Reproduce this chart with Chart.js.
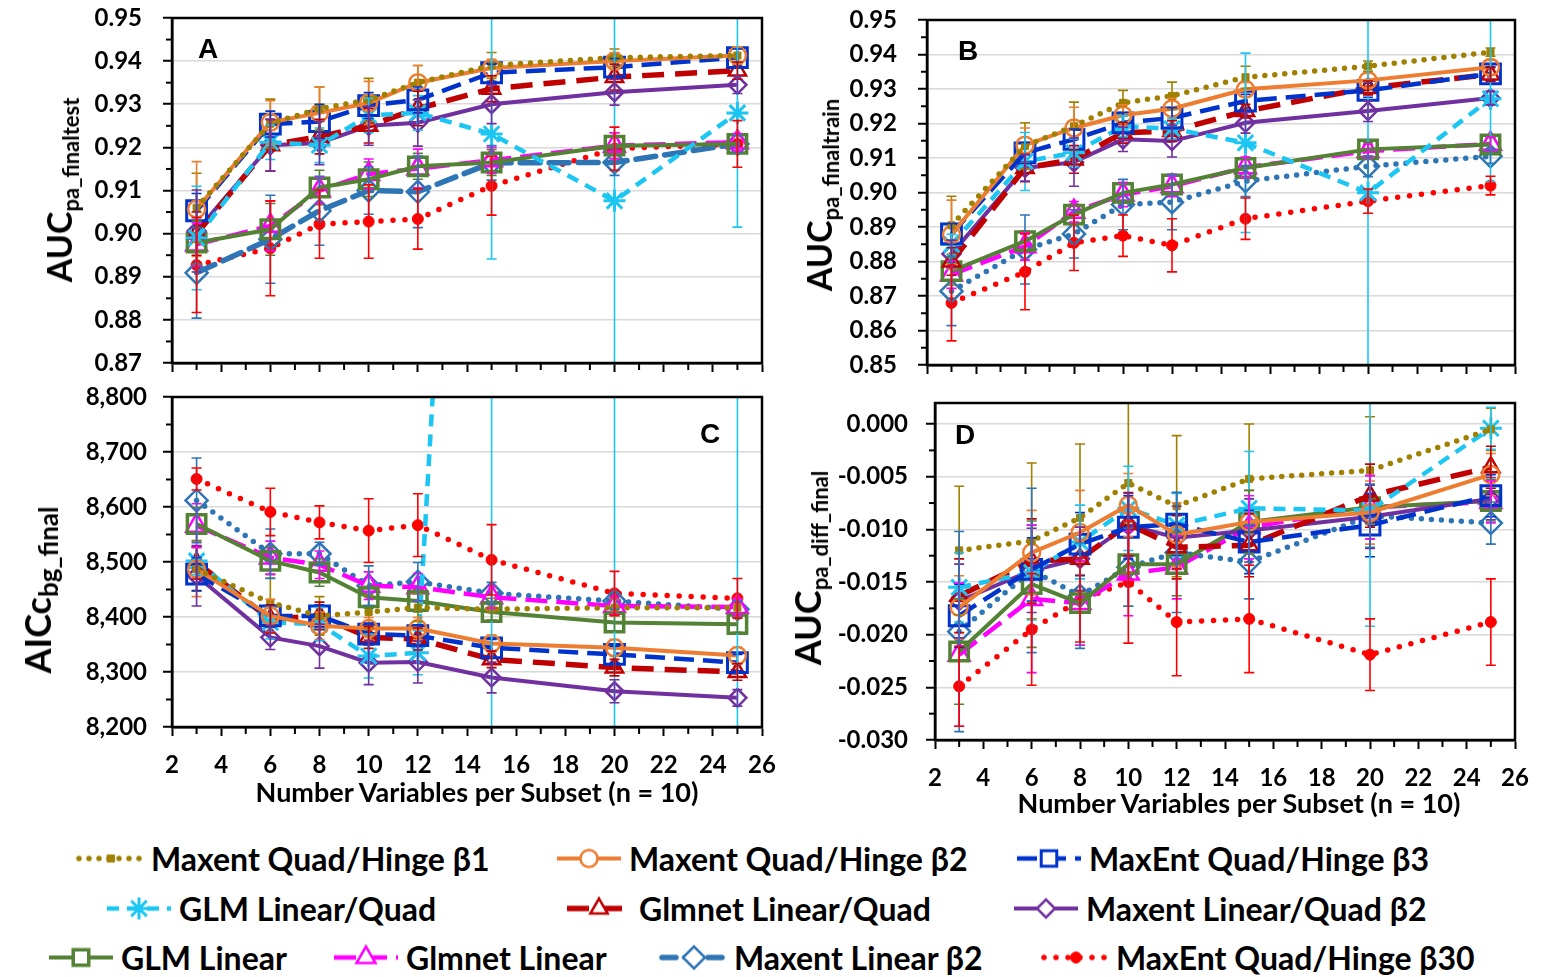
<!DOCTYPE html>
<html>
<head>
<meta charset="utf-8">
<script src="https://cdn.jsdelivr.net/npm/chart.js@4.4.1/dist/chart.umd.min.js"></script>
<style>
  html, body { margin: 0; padding: 0; background: #fff; }
  body { width: 1543px; height: 977px; position: relative; overflow: hidden;
         font-family: Lato, "Open Sans", sans-serif; font-weight: 700; color: #000; }
  .panel { position: absolute; }
  .ytitle { position: absolute; transform: translate(-50%, -50%) rotate(-90deg); white-space: nowrap; font-size: 34px; line-height: 1; }
  .ytitle sub { font-size: 22px; vertical-align: -7px; }
  .xtitle { position: absolute; transform: translateX(-50%); font-size: 27px; white-space: nowrap; }
  .leg { position: absolute; display: flex; align-items: center; transform: translateY(-50%); font-size: 32px; white-space: nowrap; }
  .leg canvas { margin-right: 4px; }
</style>
</head>
<body>
<div class="panel" style="left:0;top:0"><canvas id="chartA" width="780" height="385"></canvas></div>
<div class="panel" style="left:780px;top:0"><canvas id="chartB" width="763" height="385"></canvas></div>
<div class="panel" style="left:0;top:380px"><canvas id="chartC" width="780" height="425"></canvas></div>
<div class="panel" style="left:780px;top:385px"><canvas id="chartD" width="763" height="410"></canvas></div>

<div class="ytitle" style="left:62px;top:190px">AUC<sub>pa_finaltest</sub></div>
<div class="ytitle" style="left:822px;top:195px">AUC<sub>pa_finaltrain</sub></div>
<div class="ytitle" style="left:40px;top:590px;font-size:36px">AICc<sub style="font-size:26px">bg_final</sub></div>
<div class="ytitle" style="left:810px;top:568px;font-size:36px">AUC<sub>pa_diff_final</sub></div>
<div class="xtitle" style="left:477px;top:775px">Number Variables per Subset (n = 10)</div>
<div class="xtitle" style="left:1239px;top:786px">Number Variables per Subset (n = 10)</div>
<div id="legend"></div>

<script>
// subset sizes on the x axis
const xVars = [3, 6, 8, 10, 12, 15, 20, 25];
const xTicks = [2, 4, 6, 8, 10, 12, 14, 16, 18, 20, 22, 24, 26];

const seriesNames = [
  'Maxent Quad/Hinge β1', 'Maxent Quad/Hinge β2', 'MaxEnt Quad/Hinge β3',
  'GLM Linear/Quad', 'Glmnet Linear/Quad', 'Maxent Linear/Quad β2',
  'GLM Linear', 'Glmnet Linear', 'Maxent Linear β2', 'MaxEnt Quad/Hinge β30'
];
const seriesColors = ['#A08000', '#ED7D31', '#0033CC', '#1CC6F2', '#C00000',
                      '#7030A0', '#548235', '#FF00FF', '#2E75B6', '#FF0000'];

// A: AUC pa_finaltest
const testAuc = [
  [0.9060, 0.9255, 0.9290, 0.9310, 0.9350, 0.9390, 0.9408, 0.9413],
  [0.9057, 0.9258, 0.9280, 0.9303, 0.9350, 0.9384, 0.9400, 0.9413],
  [0.9053, 0.9254, 0.9260, 0.9297, 0.9310, 0.9373, 0.9386, 0.9408],
  [0.8990, 0.9212, 0.9205, 0.9274, 0.9280, 0.9231, 0.9076, 0.9280],
  [0.9000, 0.9205, 0.9225, 0.9250, 0.9290, 0.9336, 0.9363, 0.9378],
  [0.9006, 0.9205, 0.9210, 0.9250, 0.9257, 0.9300, 0.9328, 0.9345],
  [0.8979, 0.9010, 0.9107, 0.9126, 0.9156, 0.9165, 0.9204, 0.9208],
  [0.8975, 0.9018, 0.9100, 0.9138, 0.9151, 0.9170, 0.9204, 0.9212],
  [0.8909, 0.8987, 0.9053, 0.9100, 0.9097, 0.9164, 0.9165, 0.9208],
  [0.8927, 0.8966, 0.9022, 0.9028, 0.9034, 0.9111, 0.9197, 0.9208]
];
const testErr = [
  [0.0080, 0.0057, 0.0050, 0.0050, 0.0040, 0.0030, 0.0020, 0.0020],
  [0.0110, 0.0050, 0.0060, 0.0050, 0.0040, 0.0020, 0.0020, 0.0020],
  [0.0040, 0.0030, 0.0040, 0.0030, 0.0030, 0.0020, 0.0020, 0.0020],
  [0.0120, 0.0040, 0.0040, 0.0040, 0.0040, 0.0290, 0.0500, 0.0265],
  [0.0050, 0.0060, 0.0040, 0.0040, 0.0040, 0.0030, 0.0030, 0.0020],
  [0.0095, 0.0060, 0.0050, 0.0045, 0.0054, 0.0045, 0.0030, 0.0020],
  [0.0050, 0.0060, 0.0040, 0.0040, 0.0030, 0.0030, 0.0030, 0.0020],
  [0.0050, 0.0058, 0.0030, 0.0035, 0.0045, 0.0030, 0.0030, 0.0020],
  [0.0105, 0.0102, 0.0080, 0.0055, 0.0083, 0.0040, 0.0030, 0.0020],
  [0.0110, 0.0110, 0.0079, 0.0085, 0.0070, 0.0068, 0.0050, 0.0054]
];

// B: AUC pa_finaltrain
const trainAuc = [
  [0.8905, 0.9135, 0.9192, 0.9260, 0.9280, 0.9334, 0.9366, 0.9407],
  [0.8878, 0.9137, 0.9187, 0.9224, 0.9243, 0.9299, 0.9325, 0.9363],
  [0.8880, 0.9115, 0.9154, 0.9202, 0.9216, 0.9265, 0.9296, 0.9344],
  [0.8849, 0.9090, 0.9115, 0.9192, 0.9185, 0.9144, 0.8999, 0.9272],
  [0.8800, 0.9071, 0.9096, 0.9173, 0.9178, 0.9236, 0.9303, 0.9342],
  [0.8822, 0.9071, 0.9088, 0.9154, 0.9149, 0.9202, 0.9236, 0.9274],
  [0.8772, 0.8859, 0.8936, 0.8999, 0.9023, 0.9071, 0.9125, 0.9139],
  [0.8762, 0.8844, 0.8944, 0.8994, 0.9018, 0.9073, 0.9120, 0.9141],
  [0.8714, 0.8835, 0.8880, 0.8965, 0.8972, 0.9033, 0.9076, 0.9105],
  [0.8680, 0.8770, 0.8854, 0.8875, 0.8847, 0.8924, 0.8975, 0.9020]
];
const trainErr = [
  [0.0084, 0.0067, 0.0070, 0.0036, 0.0040, 0.0032, 0.0015, 0.0012],
  [0.0100, 0.0050, 0.0060, 0.0030, 0.0030, 0.0020, 0.0020, 0.0020],
  [0.0030, 0.0030, 0.0030, 0.0030, 0.0030, 0.0020, 0.0020, 0.0020],
  [0.0030, 0.0084, 0.0040, 0.0030, 0.0030, 0.0260, 0.0600, 0.0240],
  [0.0040, 0.0040, 0.0040, 0.0030, 0.0030, 0.0020, 0.0020, 0.0020],
  [0.0040, 0.0038, 0.0070, 0.0035, 0.0046, 0.0030, 0.0030, 0.0020],
  [0.0040, 0.0030, 0.0030, 0.0030, 0.0030, 0.0030, 0.0020, 0.0020],
  [0.0040, 0.0040, 0.0030, 0.0035, 0.0030, 0.0030, 0.0020, 0.0020],
  [0.0100, 0.0100, 0.0070, 0.0073, 0.0080, 0.0045, 0.0030, 0.0020],
  [0.0110, 0.0110, 0.0080, 0.0060, 0.0077, 0.0060, 0.0035, 0.0027]
];

// C: AICc bg_final
const aicc = [
  [8487, 8426, 8402, 8409, 8417, 8414, 8417, 8417],
  [8487, 8402, 8384, 8379, 8379, 8352, 8344, 8330],
  [8478, 8402, 8402, 8369, 8366, 8344, 8332, 8317],
  [8502, 8390, 8387, 8329, 8335, 10650, 10400, 10400],
  [8499, 8396, 8402, 8363, 8360, 8323, 8308, 8300],
  [8475, 8363, 8347, 8317, 8318, 8290, 8265, 8253],
  [8569, 8502, 8481, 8436, 8429, 8409, 8390, 8387],
  [8566, 8508, 8495, 8457, 8454, 8436, 8420, 8418],
  [8612, 8515, 8515, 8457, 8464, 8443, 8429, 8414],
  [8651, 8591, 8572, 8557, 8567, 8504, 8443, 8434]
];
const aiccErr = [
  [40, 45, 35, 30, 25, 20, 15, 15],
  [50, 30, 25, 20, 20, 15, 15, 15],
  [30, 20, 20, 20, 20, 15, 15, 15],
  [25, 30, 30, 40, 40, 2500, 2500, 2500],
  [30, 25, 25, 20, 20, 15, 15, 15],
  [55, 22, 40, 40, 38, 28, 21, 15],
  [30, 25, 25, 20, 20, 15, 15, 15],
  [40, 30, 25, 25, 25, 20, 15, 15],
  [77, 45, 21, 36, 35, 20, 15, 15],
  [20, 43, 30, 58, 57, 64, 40, 36]
];

// D: AUC pa_diff_final
const diffAuc = [
  [-0.0120, -0.0111, -0.0089, -0.0056, -0.0078, -0.0052, -0.0044, -0.0005],
  [-0.0174, -0.0122, -0.0103, -0.0077, -0.0105, -0.0093, -0.0084, -0.0048],
  [-0.0182, -0.0138, -0.0114, -0.0098, -0.0095, -0.0112, -0.0096, -0.0068],
  [-0.0155, -0.0141, -0.0112, -0.0080, -0.0096, -0.0080, -0.0082, -0.0004],
  [-0.0163, -0.0130, -0.0128, -0.0095, -0.0117, -0.0115, -0.0068, -0.0041],
  [-0.0168, -0.0139, -0.0128, -0.0096, -0.0108, -0.0101, -0.0088, -0.0071],
  [-0.0216, -0.0152, -0.0170, -0.0133, -0.0133, -0.0093, -0.0079, -0.0073],
  [-0.0219, -0.0166, -0.0170, -0.0142, -0.0136, -0.0098, -0.0079, -0.0074],
  [-0.0197, -0.0139, -0.0163, -0.0136, -0.0122, -0.0131, -0.0087, -0.0094],
  [-0.0249, -0.0195, -0.0167, -0.0150, -0.0188, -0.0185, -0.0219, -0.0188]
];
const diffErr = [
  [0.0061, 0.0074, 0.0070, 0.0085, 0.0067, 0.0052, 0.0051, 0.0020],
  [0.0030, 0.0040, 0.0040, 0.0030, 0.0030, 0.0030, 0.0030, 0.0020],
  [0.0030, 0.0030, 0.0030, 0.0030, 0.0030, 0.0030, 0.0030, 0.0020],
  [0.0033, 0.0045, 0.0035, 0.0040, 0.0030, 0.0054, 0.0110, 0.0020],
  [0.0035, 0.0040, 0.0030, 0.0030, 0.0030, 0.0030, 0.0030, 0.0020],
  [0.0035, 0.0040, 0.0030, 0.0030, 0.0030, 0.0030, 0.0030, 0.0020],
  [0.0050, 0.0060, 0.0040, 0.0040, 0.0030, 0.0030, 0.0030, 0.0020],
  [0.0068, 0.0070, 0.0040, 0.0040, 0.0030, 0.0030, 0.0030, 0.0020],
  [0.0095, 0.0078, 0.0050, 0.0037, 0.0057, 0.0035, 0.0030, 0.0020],
  [0.0038, 0.0053, 0.0040, 0.0058, 0.0051, 0.0051, 0.0034, 0.0041]
];

const yTicksA = [0.87, 0.88, 0.89, 0.90, 0.91, 0.92, 0.93, 0.94, 0.95];
const yTicksB = [0.85, 0.86, 0.87, 0.88, 0.89, 0.90, 0.91, 0.92, 0.93, 0.94, 0.95];
const yTicksC = [8200, 8300, 8400, 8500, 8600, 8700, 8800];
const yTicksD = [-0.030, -0.025, -0.020, -0.015, -0.010, -0.005, 0.000];

// line / marker look of each series
const DOT = [0, 10];
const lineStyles = [
  { width: 5.5, dash: DOT, cap: 'round' },
  { width: 4, dash: [], cap: 'butt' },
  { width: 4.5, dash: [20, 9], cap: 'butt' },
  { width: 4.5, dash: [12, 8], cap: 'butt' },
  { width: 5.5, dash: [22, 11], cap: 'butt' },
  { width: 4, dash: [], cap: 'butt' },
  { width: 4, dash: [], cap: 'butt' },
  { width: 4.5, dash: [22, 9], cap: 'butt' },
  { width: 5.5, dash: DOT, cap: 'round' },
  { width: 5.5, dash: [0, 12], cap: 'round' }
];
const markerStyles = [
  { style: 'rect', radius: 5, border: 1, filled: true },
  { style: 'circle', radius: 8.5, border: 2.5, filled: false },
  { style: 'rect', radius: 14, border: 3, filled: false },
  { style: 'star', radius: 11, border: 3, filled: false },
  { style: 'triangle', radius: 10, border: 2.5, filled: false },
  { style: 'rectRot', radius: 9, border: 2.5, filled: false },
  { style: 'rect', radius: 13, border: 3.5, filled: false },
  { style: 'triangle', radius: 12, border: 2.5, filled: false },
  { style: 'rectRot', radius: 11, border: 2.5, filled: false },
  { style: 'circle', radius: 5.5, border: 1, filled: true }
];

Chart.defaults.font.family = 'Lato, "Open Sans", sans-serif';
Chart.defaults.font.weight = 'bold';
Chart.defaults.color = '#000';

// vertical error bars from each dataset's `errors` list
const errorBars = {
  id: 'errorBars',
  afterDatasetsDraw(chart) {
    const { ctx, chartArea: a, scales: { x, y } } = chart;
    ctx.save();
    ctx.beginPath();
    ctx.rect(a.left, a.top, a.right - a.left, a.bottom - a.top);
    ctx.clip();
    chart.data.datasets.forEach(ds => {
      ctx.strokeStyle = ds.borderColor;
      ctx.lineWidth = 1.6;
      ds.data.forEach((p, j) => {
        const e = ds.errors[j];
        const px = x.getPixelForValue(p.x);
        const hi = y.getPixelForValue(p.y + e);
        const lo = y.getPixelForValue(p.y - e);
        ctx.beginPath();
        ctx.moveTo(px, hi); ctx.lineTo(px, lo);
        ctx.moveTo(px - 5, hi); ctx.lineTo(px + 5, hi);
        ctx.moveTo(px - 5, lo); ctx.lineTo(px + 5, lo);
        ctx.stroke();
      });
    });
    ctx.restore();
  }
};

// box round the plot, minor tick marks and the panel letter
const frame = {
  id: 'frame',
  afterDraw(chart, args, opts) {
    const { ctx, chartArea: a, scales: { x, y } } = chart;
    ctx.save();
    ctx.strokeStyle = '#000';
    ctx.lineWidth = 2;
    const yt = y.ticks.map(t => t.value);
    for (let i = 0; i < yt.length - 1; i++) {
      const py = y.getPixelForValue((yt[i] + yt[i + 1]) / 2);
      ctx.beginPath(); ctx.moveTo(a.left - 6, py); ctx.lineTo(a.left, py); ctx.stroke();
    }
    const xt = x.ticks.map(t => t.value);
    for (let i = 0; i < xt.length - 1; i++) {
      const px = x.getPixelForValue((xt[i] + xt[i + 1]) / 2);
      ctx.beginPath(); ctx.moveTo(px, a.bottom); ctx.lineTo(px, a.bottom + 7); ctx.stroke();
    }
    ctx.lineWidth = 2.5;
    ctx.strokeRect(a.left, a.top, a.right - a.left, a.bottom - a.top);
    ctx.fillStyle = '#000';
    ctx.font = 'bold 28px "Liberation Sans", Arial, sans-serif';
    ctx.textAlign = 'center';
    ctx.textBaseline = 'middle';
    ctx.fillText(opts.letter, opts.lx, opts.ly);
    ctx.restore();
  }
};

function buildDatasets(values, errors, dashes) {
  return seriesNames.map((name, i) => ({
    label: name,
    data: xVars.map((x, j) => ({ x, y: values[i][j] })),
    errors: errors[i],
    borderColor: seriesColors[i],
    backgroundColor: seriesColors[i],
    borderWidth: lineStyles[i].width,
    borderDash: (dashes && dashes[i]) || lineStyles[i].dash,
    borderCapStyle: lineStyles[i].cap,
    pointStyle: markerStyles[i].style,
    pointRadius: markerStyles[i].radius,
    pointBorderWidth: markerStyles[i].border,
    pointBorderColor: seriesColors[i],
    pointBackgroundColor: markerStyles[i].filled ? seriesColors[i] : 'rgba(0,0,0,0)',
    tension: 0
  }));
}

function makePanel(id, cfg) {
  return new Chart(document.getElementById(id), {
    type: 'line',
    data: { datasets: buildDatasets(cfg.values, cfg.errors, cfg.dashes) },
    options: {
      responsive: false,
      animation: false,
      devicePixelRatio: 1,
      events: [],
      layout: { autoPadding: false, padding: { left: 0, top: cfg.padTop, right: cfg.padRight, bottom: 0 } },
      plugins: {
        legend: { display: false },
        tooltip: { enabled: false },
        frame: { letter: cfg.letter, lx: cfg.lx, ly: cfg.ly }
      },
      scales: {
        x: {
          type: 'linear',
          min: 2, max: 26,
          afterBuildTicks: s => { s.ticks = xTicks.map(v => ({ value: v })); },
          afterFit: s => { s.height = cfg.xHeight; s.paddingLeft = 0; s.paddingRight = 0; },
          ticks: { display: cfg.xLabels, font: { size: 24 }, padding: 15, maxRotation: 0 },
          grid: { drawOnChartArea: false, drawTicks: true, tickLength: 9, tickColor: '#000', tickWidth: 2 },
          border: { color: '#000', width: 2.5 }
        },
        y: {
          min: cfg.min, max: cfg.max,
          afterBuildTicks: s => { s.ticks = cfg.yTicks.map(v => ({ value: v })); },
          afterFit: s => { s.width = cfg.yWidth; s.paddingTop = 0; s.paddingBottom = 0; },
          ticks: { font: { size: 24 }, padding: cfg.yPad, callback: cfg.fmt },
          grid: { color: '#D9D9D9', lineWidth: 1.5, tickLength: 9, tickColor: '#000', tickWidth: 2 },
          border: { color: '#000', width: 2.5 }
        }
      }
    },
    plugins: [errorBars, frame]
  });
}

// panel A draws Maxent Linear β2 with dashes instead of dots
const dashedA = seriesNames.map((n, i) => i === 8 ? [20, 9] : null);

makePanel('chartA', {
  values: testAuc, errors: testErr, dashes: dashedA,
  min: 0.87, max: 0.95, yTicks: yTicksA, fmt: v => v.toFixed(2),
  yWidth: 172, yPad: 21, padTop: 18, padRight: 18, xHeight: 22, xLabels: false,
  letter: 'A', lx: 208, ly: 50
});
makePanel('chartB', {
  values: trainAuc, errors: trainErr,
  min: 0.85, max: 0.95, yTicks: yTicksB, fmt: v => v.toFixed(2),
  yWidth: 147, yPad: 21, padTop: 20, padRight: 28, xHeight: 20, xLabels: false,
  letter: 'B', lx: 188, ly: 52
});
makePanel('chartC', {
  values: aicc, errors: aiccErr,
  min: 8200, max: 8800, yTicks: yTicksC, fmt: v => v.toLocaleString('en-US'),
  yWidth: 172, yPad: 16, padTop: 17, padRight: 18, xHeight: 78, xLabels: true,
  letter: 'C', lx: 710, ly: 55
});
makePanel('chartD', {
  values: diffAuc, errors: diffErr,
  min: -0.030, max: 0.002, yTicks: yTicksD, fmt: v => v.toFixed(3),
  yWidth: 155, yPad: 18, padTop: 18, padRight: 28, xHeight: 55, xLabels: true,
  letter: 'D', lx: 185, ly: 51
});

// legend: three rows under the panels
const legendSlots = [
  [75, 858], [553, 858], [1013, 858],
  [103, 908], [563, 908], [1010, 908],
  [45, 957], [330, 957], [658, 957], [1040, 957]
];
const legendBox = document.getElementById('legend');
seriesNames.forEach((name, i) => {
  const item = document.createElement('div');
  item.className = 'leg';
  item.style.left = legendSlots[i][0] + 'px';
  item.style.top = legendSlots[i][1] + 'px';
  const c = document.createElement('canvas');
  c.width = 72; c.height = 34;
  const ctx = c.getContext('2d');
  const ls = lineStyles[i], ms = markerStyles[i];
  ctx.strokeStyle = seriesColors[i];
  ctx.lineWidth = ls.width;
  ctx.lineCap = ls.cap;
  ctx.setLineDash(i === 8 ? [14, 9] : ls.dash);
  ctx.beginPath(); ctx.moveTo(4, 17); ctx.lineTo(68, 17); ctx.stroke();
  ctx.setLineDash([]);
  ctx.lineWidth = ms.border;
  ctx.fillStyle = ms.filled ? seriesColors[i] : '#fff';
  const r = Math.min(ms.radius, 11);
  Chart.helpers.drawPoint(ctx, { pointStyle: ms.style, radius: r, rotation: 0, borderWidth: ms.border }, 36, 17);
  item.appendChild(c);
  const t = document.createElement('span');
  t.textContent = name;
  item.appendChild(t);
  legendBox.appendChild(item);
});
</script>
</body>
</html>
